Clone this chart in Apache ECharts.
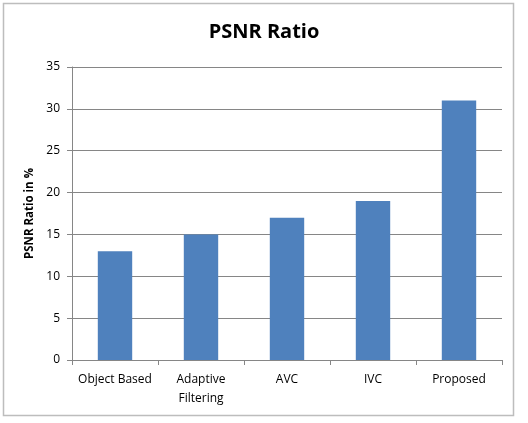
<!DOCTYPE html>
<html>
<head>
<meta charset="utf-8">
<script src="https://cdn.jsdelivr.net/npm/echarts@6/dist/echarts.min.js"></script>
<style>
  html, body { margin: 0; padding: 0; background: #fff; }
  #chart { width: 528px; height: 423px; }
</style>
</head>
<body>
<div id="chart"></div>
<script>
  // 数据
  const categories = ['Object Based', 'Adaptive\nFiltering', 'AVC', 'IVC', 'Proposed']
  const psnrValues = [13, 15, 17, 19, 31]
  const yTicks = { min: 0, max: 35, interval: 5 }

  const font = '"Open Sans", "Liberation Sans", sans-serif'
  const myChart = echarts.init(document.getElementById('chart'))
  myChart.setOption({
    animation: false,
    backgroundColor: '#fff',
    graphic: [
      {
        type: 'rect',
        shape: { x: 3.5, y: 3.5, width: 510, height: 412 },
        style: { fill: 'none', stroke: '#bdbdbd', lineWidth: 1.5 }
      }
    ],
    title: {
      text: 'PSNR Ratio',
      left: 'center',
      top: 17,
      textStyle: { fontFamily: font, fontWeight: 'bold', fontSize: 20, color: '#000' }
    },
    grid: { left: 72, right: 26, top: 67, bottom: 63 },
    xAxis: {
      type: 'category',
      data: categories,
      axisLine: { lineStyle: { color: '#868686' } },
      axisTick: { show: true, length: 5, lineStyle: { color: '#868686' } },
      axisLabel: { interval: 0, fontFamily: font, fontSize: 12, color: '#000', margin: 10, lineHeight: 19 }
    },
    yAxis: {
      type: 'value',
      min: yTicks.min,
      max: yTicks.max,
      interval: yTicks.interval,
      name: 'PSNR Ratio in %',
      nameLocation: 'middle',
      nameGap: 33,
      nameTextStyle: { fontFamily: font, fontWeight: 'bold', fontSize: 11.5, color: '#000' },
      axisLine: { show: true, lineStyle: { color: '#868686' } },
      axisTick: { show: true, length: 5, lineStyle: { color: '#868686' } },
      axisLabel: { fontFamily: font, fontSize: 12, color: '#000', margin: 12 },
      splitLine: { lineStyle: { color: '#868686' } }
    },
    series: [
      {
        type: 'bar',
        data: psnrValues,
        barWidth: '40%',
        itemStyle: { color: '#4f81bd' }
      }
    ]
  })
</script>
</body>
</html>
